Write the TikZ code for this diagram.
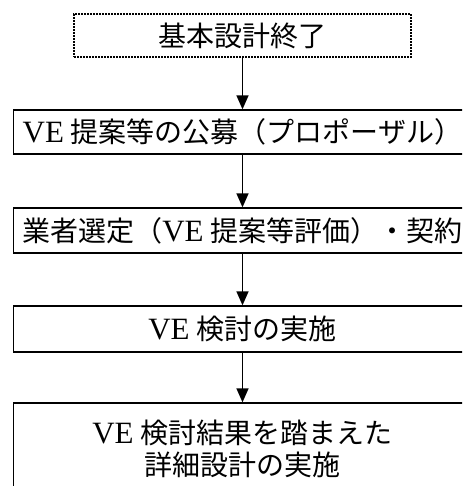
\documentclass[tikz,border=0pt]{standalone}
\usepackage{fontspec}
\setmainfont{Liberation Serif}
\newfontfamily\cjk{Noto Sans CJK JP}
\usetikzlibrary{arrows.meta}
\newcommand{\veword}{{\fontsize{31}{32}\selectfont VE}}
\tikzset{
  box/.style={draw=black, line width=1.3pt, rectangle, inner sep=0pt, align=center,
    font=\fontsize{28}{32}\selectfont, minimum width=458pt},
  dotbox/.style={draw=black, line width=1.6pt, dash pattern=on 1.6pt off 1.4pt, rectangle,
    inner sep=0pt, font=\fontsize{28}{32}\selectfont, minimum width=337pt, minimum height=43pt},
  arr/.style={line width=1.4pt, -{Triangle[width=12pt,length=14pt]}}
}
\begin{document}
\begin{tikzpicture}[x=1pt,y=-1pt]
\useasboundingbox (0,0) rectangle (462,486);
\clip (0,0) rectangle (462,486);
\node[dotbox] (b1) at (242.5,35.5) {\cjk 基本設計終了};
\node[box, minimum height=44pt] (b2) at (242.5,132) {\veword\ {\cjk 提案等の公募（プロポーザル）}};
\node[box, minimum height=45pt] (b3) at (242.5,230.5) {{\cjk 業者選定（}\veword\ {\cjk 提案等評価）・契約}};
\node[box, minimum height=46pt] (b4) at (242.5,329) {\veword\ {\cjk 検討の実施}};
\node[box, minimum height=92pt] (b5) at (242.5,449) {\veword\ {\cjk 検討結果を踏まえた}\\{\cjk 詳細設計の実施}};
\draw[arr] (b1) -- (b2);
\draw[arr] (b2) -- (b3);
\draw[arr] (b3) -- (b4);
\draw[arr] (b4) -- (b5);
\end{tikzpicture}
\end{document}
